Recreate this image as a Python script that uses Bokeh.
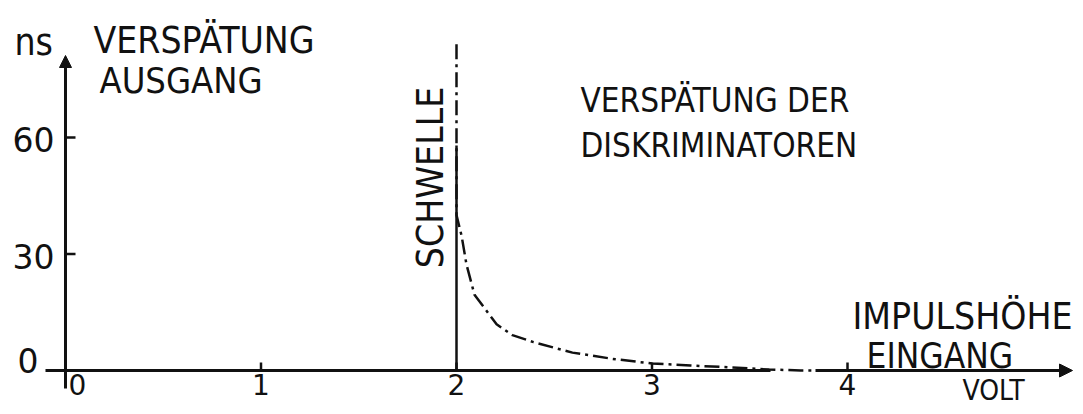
import math
from bokeh.plotting import figure
from bokeh.models import Range1d, Arrow, NormalHead, ColumnDataSource
from bokeh.core.properties import value
from bokeh.embed import file_html
from bokeh.resources import INLINE

# ---------------- data ----------------
x_ticks = [0, 1, 2, 3, 4]
x_tick_labels = ["0", "1", "2", "3", "4"]
y_ticks = [0, 30, 60]
y_tick_labels = ["0", "30", "60"]

threshold_volt = 2.0
# delay curve of the discriminators (volt, ns)
curve_volt = [2.0, 2.0, 2.005, 2.026, 2.051, 2.092, 2.205, 2.286, 2.394, 2.593,
              2.798, 3.0, 3.197, 3.40, 3.60, 3.76, 3.90]
curve_ns = [84, 40, 39, 34.7, 27.3, 19.5, 11.9, 9.1, 7.3, 4.6,
            3.0, 1.8, 1.3, 0.8, 0.25, 0.0, 0.0]

# ---------------- layout ----------------
W, H = 1075, 406
PX_PER_VOLT = 195.5
ORIGIN_X = 65       # canvas px of volt = 0
ORIGIN_Y = 370      # canvas px of ns = 0
PX_PER_NS = (ORIGIN_Y - 137) / 60.0


def dx(px):  # canvas px -> volt
    return (px - ORIGIN_X) / PX_PER_VOLT


def dy(py):  # canvas px -> ns
    return (ORIGIN_Y - py) / PX_PER_NS


p = figure(width=W, height=H, output_backend="svg", toolbar_location=None,
           x_range=Range1d(dx(0), dx(W)), y_range=Range1d(dy(H), dy(0)),
           min_border=0, min_border_left=0, min_border_right=0,
           min_border_top=0, min_border_bottom=0)
p.axis.visible = False
p.grid.visible = False
p.outline_line_color = None
p.background_fill_color = "white"
p.border_fill_color = "white"

INK = "#111111"
NUM_FONT = value("DejaVu Sans")
WORD_FONT = value("DejaVu Sans Condensed")

# x axis (broken where the dash-dot curve runs along it) with arrow
p.segment(x0=[dx(45)], y0=[0], x1=[dx(770)], y1=[0], line_color=INK, line_width=3)
p.add_layout(Arrow(x_start=dx(815), y_start=0, x_end=dx(1072), y_end=0,
                   line_color=INK, line_width=3,
                   end=NormalHead(size=13, fill_color=INK, line_color=INK)))
# y axis with arrow
p.add_layout(Arrow(x_start=0, y_start=dy(388), x_end=0, y_end=dy(55),
                   line_color=INK, line_width=3,
                   end=NormalHead(size=12, fill_color=INK, line_color=INK)))

# ticks
xt = [t for t in x_ticks if t != 0]
p.segment(x0=xt, y0=[0] * len(xt), x1=xt, y1=[8 / PX_PER_NS] * len(xt),
          line_color=INK, line_width=2.5)
yt = [t for t in y_ticks if t != 0]
p.segment(x0=[0] * len(yt), y0=yt, x1=[10 / PX_PER_VOLT] * len(yt), y1=yt,
          line_color=INK, line_width=2.5)

# tick labels
xsrc = ColumnDataSource(dict(x=x_ticks, y=[0] * len(x_ticks), t=x_tick_labels,
                             xo=[12 if t == 0 else 0 for t in x_ticks]))
p.text(x="x", y="y", text="t", x_offset="xo", y_offset=3, source=xsrc,
       text_font=NUM_FONT, text_font_size="28px", text_align="center",
       text_baseline="top", text_color=INK)
ysrc = ColumnDataSource(dict(x=[0] * len(y_ticks), y=y_ticks, t=y_tick_labels,
                             xo=[-27 if t == 0 else -11 for t in y_ticks],
                             yo=[-10 if t == 0 else 2 for t in y_ticks]))
p.text(x="x", y="y", text="t", x_offset="xo", y_offset="yo", source=ysrc,
       text_font=NUM_FONT, text_font_size="33px", text_align="right",
       text_baseline="middle", text_color=INK)

# threshold line
p.segment(x0=[threshold_volt], y0=[0], x1=[threshold_volt], y1=[dy(145)],
          line_color=INK, line_width=2.5)
# delay curve (dash-dot)
p.line(curve_volt, curve_ns, line_color=INK, line_width=2.5, line_dash="15 5 3 5")


# texts (positions in canvas px)
def label(txt, px, py, size="36px", align="left", baseline="alphabetic", angle=0.0,
          font=WORD_FONT):
    p.text(x=[dx(px)], y=[dy(py)], text=[txt], text_font=font, text_font_size=size,
           text_align=align, text_baseline=baseline, angle=angle, text_color=INK)


label("ns", 14, 42, size="37px")
label("VERSPÄTUNG", 93, 40, size="37px")
label("AUSGANG", 99, 80)
label("VERSPÄTUNG DER", 580, 100, size="33px")
label("DISKRIMINATOREN", 580, 145, size="33px")
label("SCHWELLE", 430, 177, size="37px", align="center", baseline="middle",
      angle=math.pi / 2)
label("IMPULSHÖHE", 1072, 316, size="37px", align="right")
label("EINGANG", 866, 355, size="35px")
label("VOLT", 962, 373, size="28px", baseline="top")

open("out.html", "w").write(file_html(p, INLINE))
